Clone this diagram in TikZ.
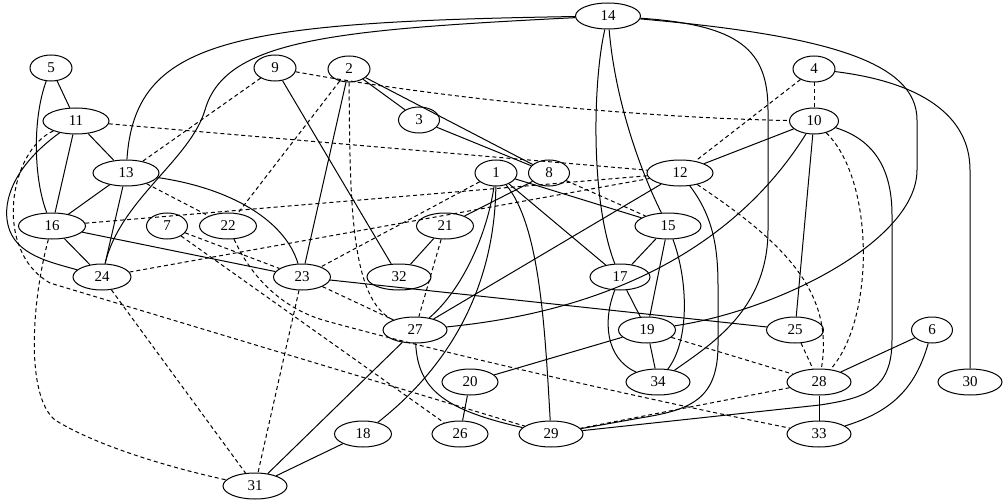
\documentclass[tikz,border=0pt]{standalone}
\usepackage{fontspec}
\setmainfont{Liberation Serif}
\usetikzlibrary{shapes.geometric}
\begin{document}
\begin{tikzpicture}[x=1pt,y=-1pt,
  nd/.style={draw, ellipse, line width=1pt, inner sep=0pt, minimum height=26pt, font=\fontsize{15}{15}\selectfont},
  e/.style={line width=1pt},
  d/.style={line width=1pt, dash pattern=on 4pt off 3pt}]
\useasboundingbox (0,0) rectangle (1005,503);
% nodes
\node[nd, minimum width=65pt] (14) at (608,16) {14};
\node[nd, minimum width=42pt] (5) at (51,68) {5};
\node[nd, minimum width=42pt] (9) at (275,68) {9};
\node[nd, minimum width=42pt] (2) at (349,69) {2};
\node[nd, minimum width=42pt] (4) at (814,69) {4};
\node[nd, minimum width=66pt] (11) at (76,121) {11};
\node[nd, minimum width=41pt] (3) at (419,120) {3};
\node[nd, minimum width=49pt] (10) at (814,121) {10};
\node[nd, minimum width=66pt] (13) at (126,173) {13};
\node[nd, minimum width=42pt] (1) at (496,173) {1};
\node[nd, minimum width=41pt] (8) at (549,173) {8};
\node[nd, minimum width=66pt] (12) at (680,173) {12};
\node[nd, minimum width=67pt] (16) at (52,226) {16};
\node[nd, minimum width=41pt] (7) at (167,226) {7};
\node[nd, minimum width=57pt] (22) at (228,226) {22};
\node[nd, minimum width=57pt] (21) at (445,226) {21};
\node[nd, minimum width=66pt] (15) at (668,226) {15};
\node[nd, minimum width=58pt] (24) at (102,277) {24};
\node[nd, minimum width=57pt] (23) at (302,277) {23};
\node[nd, minimum width=64pt] (32) at (399,277) {32};
\node[nd, minimum width=60pt] (17) at (620,277) {17};
\node[nd, minimum width=64pt] (27) at (415,330) {27};
\node[nd, minimum width=57pt] (19) at (647,330) {19};
\node[nd, minimum width=57pt] (25) at (795,330) {25};
\node[nd, minimum width=41pt] (6) at (932,330) {6};
\node[nd, minimum width=56pt] (20) at (470,382) {20};
\node[nd, minimum width=64pt] (34) at (658,382) {34};
\node[nd, minimum width=64pt] (28) at (819,382) {28};
\node[nd, minimum width=64pt] (30) at (970,382) {30};
\node[nd, minimum width=57pt] (18) at (363,434) {18};
\node[nd, minimum width=56pt] (26) at (460,434) {26};
\node[nd, minimum width=64pt] (29) at (551,434) {29};
\node[nd, minimum width=64pt] (33) at (819,434) {33};
\node[nd, minimum width=64pt] (31) at (255,486) {31};
% solid edges
\draw[e] (5) -- (11);
\draw[e] (5) .. controls (32,120) and (34,180) .. (16);
\draw[e] (11) -- (13);
\draw[e] (11) -- (16);
\draw[e] (11) .. controls (15,165) and (2,200) .. (8,225) .. controls (15,255) and (50,262) .. (24);
\draw[e] (13) -- (16);
\draw[e] (13) -- (24);
\draw[e] (13) .. controls (230,188) and (285,220) .. (23);
\draw[e] (14) .. controls (230,22) and (135,40) .. (13);
\draw[e] (14) .. controls (330,30) and (225,40) .. (205,110) .. controls (190,160) and (120,200) .. (24);
\draw[e] (14) .. controls (593,80) and (590,200) .. (17);
\draw[e] (14) .. controls (615,100) and (640,170) .. (15);
\draw[e] (14) .. controls (740,25) and (768,50) .. (768,110) -- (768,230) .. controls (768,310) and (710,345) .. (34);
\draw[e] (14) .. controls (820,35) and (917,60) .. (917,120) -- (917,170) .. controls (917,240) and (780,310) .. (19);
\draw[e] (16) -- (24);
\draw[e] (16) -- (23);
\draw[e] (9) -- (32);
\draw[e] (2) -- (3);
\draw[e] (2) -- (8);
\draw[e] (3) -- (8);
\draw[e] (2) -- (23);
\draw[e] (4) .. controls (920,82) and (970,115) .. (970,170) -- (30);
\draw[e] (10) -- (12);
\draw[e] (10) .. controls (740,240) and (620,310) .. (27);
\draw[e] (10) -- (25);
\draw[e] (10) .. controls (875,140) and (892,170) .. (892,215) -- (892,340) .. controls (892,390) and (865,398) .. (820,405) -- (29);
\draw[e] (12) -- (27);
\draw[e] (12) .. controls (712,215) and (718,245) .. (718,285) -- (718,345) .. controls (718,400) and (690,410) .. (640,418) -- (29);
\draw[e] (1) .. controls (487,235) and (462,290) .. (27);
\draw[e] (1) .. controls (495,260) and (470,350) .. (18);
\draw[e] (1) .. controls (540,225) and (545,330) .. (29);
\draw[e] (1) -- (17);
\draw[e] (1) -- (15);
\draw[e] (8) -- (21);
\draw[e] (21) -- (32);
\draw[e] (15) -- (17);
\draw[e] (15) -- (19);
\draw[e] (15) .. controls (688,280) and (690,340) .. (34);
\draw[e] (17) -- (19);
\draw[e] (17) .. controls (603,320) and (605,358) .. (34);
\draw[e] (19) -- (34);
\draw[e] (19) -- (20);
\draw[e] (20) -- (26);
\draw[e] (27) .. controls (418,390) and (445,410) .. (29);
\draw[e] (27) -- (31);
\draw[e] (18) -- (31);
\draw[e] (23) -- (25);
\draw[e] (6) -- (28);
\draw[e] (6) .. controls (915,390) and (890,412) .. (33);
\draw[e] (28) -- (33);
% dashed edges
\draw[d] (11) -- (12);
\draw[d] (11) .. controls (10,150) and (-8,250) .. (50,283) -- (29);
\draw[d] (9) -- (13);
\draw[d] (9) .. controls (450,100) and (650,118) .. (10);
\draw[d] (2) -- (22);
\draw[d] (2) .. controls (350,200) and (350,300) .. (27);
\draw[d] (4) -- (10);
\draw[d] (4) -- (12);
\draw[d] (13) -- (22);
\draw[d] (16) -- (12);
\draw[d] (24) -- (12);
\draw[d] (16) .. controls (32,300) and (25,395) .. (55,420) .. controls (100,448) and (180,470) .. (31);
\draw[d] (24) -- (31);
\draw[d] (23) -- (31);
\draw[d] (1) -- (23);
\draw[d] (8) -- (15);
\draw[d] (21) -- (27);
\draw[d] (23) -- (27);
\draw[d] (7) -- (23);
\draw[d] (7) -- (26);
\draw[d] (22) .. controls (255,285) and (290,312) .. (330,322) .. controls (450,355) and (650,400) .. (33);
\draw[d] (10) .. controls (875,180) and (875,320) .. (28);
\draw[d] (12) .. controls (780,240) and (835,290) .. (28);
\draw[d] (25) -- (28);
\draw[d] (19) -- (28);
\draw[d] (28) -- (29);
\end{tikzpicture}
\end{document}
